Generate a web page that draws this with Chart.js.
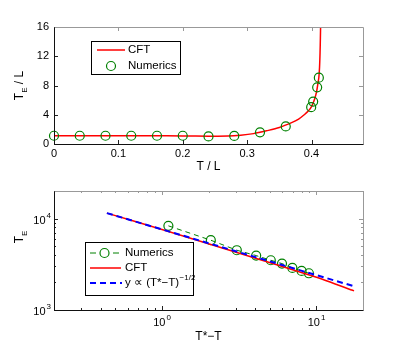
<!DOCTYPE html>
<html>
<head>
<meta charset="utf-8">
<script src="https://cdn.jsdelivr.net/npm/chart.js@4"></script>
<style>
  body { margin: 0; background: #fff; }
  .panel { position: absolute; left: 0; width: 402px; }
</style>
</head>
<body>
<div class="panel" style="top:0;height:175px"><canvas id="topChart" width="402" height="175"></canvas></div>
<div class="panel" style="top:175px;height:174px"><canvas id="bottomChart" width="402" height="174"></canvas></div>
<script>
// ---- top panel: T_E / L against T / L ----
const cftT  = [0, 0.05, 0.1, 0.15, 0.2, 0.24, 0.27, 0.29, 0.31, 0.33, 0.35, 0.37, 0.38, 0.39, 0.395, 0.40, 0.405, 0.408, 0.41, 0.4114, 0.4125, 0.4133, 0.4138, 0.4142];
const cftTE = [1.13, 1.13, 1.12, 1.12, 1.1, 1.06, 1.08, 1.2, 1.42, 1.8, 2.25, 2.95, 3.4, 4.1, 4.5, 5.1, 6.2, 7.2, 8.3, 9.1, 10.5, 12.5, 14.5, 16.5];
const numT  = [0, 0.04, 0.08, 0.12, 0.16, 0.2, 0.24, 0.28, 0.32, 0.36, 0.3995, 0.4026, 0.4088, 0.4114];
const numTE = [1.13, 1.13, 1.13, 1.13, 1.13, 1.13, 1.04, 1.1, 1.59, 2.4, 5.03, 5.8, 7.75, 9.07];
const topXTicks = [0, 0.1, 0.2, 0.3, 0.4];
const topYTicks = [0, 4, 8, 12, 16];

// ---- bottom panel: T_E against T*-T (log-log) ----
const numDT   = [1.10, 2.07, 3.05, 4.07, 5.06, 5.98, 6.98, 8.01, 8.93];
const numLogE = [8318, 5794, 4503, 3936, 3499, 3217, 2884, 2675, 2521];
const cftDT   = [0.44, 1, 3.13, 10, 17.5];
const cftLogE = [11460, 7600, 4200, 2280, 1620];
const fitDT   = [0.44, 17.5];
const fitE    = [11460, 1817];
const botXTicks = [1, 10];
const botXExp   = ['0', '1'];
const botYTicks = [1000, 10000];
const botYExp   = ['3', '4'];
const botXMinor = [0.2, 0.3, 0.4, 0.5, 0.6, 0.7, 0.8, 0.9, 2, 3, 4, 5, 6, 7, 8, 9, 20];
const botYMinor = [2000, 3000, 4000, 5000, 6000, 7000, 8000, 9000, 20000];

const FONT = '"Liberation Sans", Arial, Helvetica, sans-serif';
const RED = 'rgb(255,0,0)', GREEN = 'rgb(0,128,0)', BLUE = 'rgb(0,0,255)';

const pts = (xs, ys) => xs.map((v, i) => ({x: v, y: ys[i]}));

function frame(ctx, a, xs, ys, xScale, yScale, len, minorX, minorY) {
  ctx.save();
  ctx.lineWidth = 1;
  // tick marks, inside the box on all four sides
  const tick = (vals, l) => {
    vals.forEach(v => {
      const px = Math.round(xScale.getPixelForValue(v)) + 0.5;
      ctx.strokeStyle = '#222';
      ctx.beginPath(); ctx.moveTo(px, a.bottom); ctx.lineTo(px, a.bottom - l); ctx.stroke();
      ctx.strokeStyle = '#999';
      ctx.beginPath(); ctx.moveTo(px, a.top); ctx.lineTo(px, a.top + l); ctx.stroke();
    });
  };
  const ytick = (vals, l) => {
    vals.forEach(v => {
      const py = Math.round(yScale.getPixelForValue(v)) + 0.5;
      ctx.strokeStyle = '#222';
      ctx.beginPath(); ctx.moveTo(a.left, py); ctx.lineTo(a.left + l, py); ctx.stroke();
      ctx.strokeStyle = '#999';
      ctx.beginPath(); ctx.moveTo(a.right, py); ctx.lineTo(a.right - l, py); ctx.stroke();
    });
  };
  tick(xs, len); ytick(ys, len);
  if (minorX) tick(minorX, 2);
  if (minorY) ytick(minorY, 2);
  const L = Math.round(a.left) + 0.5, R = Math.round(a.right) + 0.5;
  const T = Math.round(a.top) + 0.5, B = Math.round(a.bottom) + 0.5;
  ctx.strokeStyle = '#999';
  ctx.beginPath(); ctx.moveTo(L, T); ctx.lineTo(R, T); ctx.lineTo(R, B); ctx.stroke();
  ctx.strokeStyle = '#111';
  ctx.beginPath(); ctx.moveTo(L, T); ctx.lineTo(L, B); ctx.lineTo(R, B); ctx.stroke();
  ctx.restore();
}

function supText(ctx, base, exp, x, y, align) {
  ctx.font = '11px ' + FONT;
  const wb = ctx.measureText(base).width;
  ctx.font = '8px ' + FONT;
  const we = ctx.measureText(exp).width;
  const x0 = align === 'right' ? x - wb - we - 1 : x - (wb + we + 1) / 2;
  ctx.textAlign = 'left';
  ctx.textBaseline = 'middle';
  ctx.font = '11px ' + FONT;
  ctx.fillText(base, x0, y);
  ctx.font = '8px ' + FONT;
  ctx.fillText(exp, x0 + wb + 1, y - 5);
}

function circle(ctx, x, y, color) {
  ctx.strokeStyle = color; ctx.lineWidth = 1.2;
  ctx.beginPath(); ctx.arc(x, y, 4.5, 0, Math.PI * 2); ctx.stroke();
}

function legendBox(ctx, x, y, w, h) {
  ctx.fillStyle = '#fff';
  ctx.fillRect(x, y, w, h);
  ctx.strokeStyle = '#000'; ctx.lineWidth = 1;
  ctx.strokeRect(x + 0.5, y + 0.5, w, h);
}

const topDecor = {
  id: 'topDecor',
  afterDraw(chart) {
    const {ctx, chartArea: a, scales: {x, y}} = chart;
    frame(ctx, a, topXTicks, topYTicks, x, y, 4);
    ctx.save();
    ctx.fillStyle = '#000';
    ctx.font = '11px ' + FONT;
    ctx.textAlign = 'center'; ctx.textBaseline = 'middle';
    topXTicks.forEach(v => ctx.fillText(String(v), x.getPixelForValue(v), a.bottom + 10));
    ctx.textAlign = 'right';
    topYTicks.forEach(v => ctx.fillText(String(v), a.left - 5, y.getPixelForValue(v)));
    // axis titles
    ctx.font = '12px ' + FONT;
    ctx.textAlign = 'center';
    ctx.fillText('T / L', (a.left + a.right) / 2, a.bottom + 23);
    ctx.save();
    ctx.translate(20, (a.top + a.bottom) / 2);
    ctx.rotate(-Math.PI / 2);
    ctx.textAlign = 'left';
    const wT = ctx.measureText('T').width;
    ctx.font = '8px ' + FONT;
    const wE = ctx.measureText('E').width;
    ctx.font = '12px ' + FONT;
    const wR = ctx.measureText(' / L').width;
    const s = -(wT + wE + wR) / 2;
    ctx.fillText('T', s, 0);
    ctx.font = '8px ' + FONT;
    ctx.fillText('E', s + wT, 5);
    ctx.font = '12px ' + FONT;
    ctx.fillText(' / L', s + wT + wE, 0);
    ctx.restore();
    // legend
    legendBox(ctx, 91, 41, 89, 33);
    ctx.strokeStyle = RED; ctx.lineWidth = 1.5;
    ctx.beginPath(); ctx.moveTo(97, 50); ctx.lineTo(125, 50); ctx.stroke();
    circle(ctx, 111, 66, GREEN);
    ctx.fillStyle = '#000';
    ctx.font = '11.5px ' + FONT;
    ctx.textAlign = 'left'; ctx.textBaseline = 'middle';
    ctx.fillText('CFT', 128, 50);
    ctx.fillText('Numerics', 128, 66);
    ctx.restore();
  }
};

const bottomDecor = {
  id: 'bottomDecor',
  afterDraw(chart) {
    const {ctx, chartArea: a, scales: {x, y}} = chart;
    frame(ctx, a, botXTicks, botYTicks, x, y, 4, botXMinor, botYMinor);
    ctx.save();
    ctx.fillStyle = '#000';
    botXTicks.forEach((v, i) => supText(ctx, '10', botXExp[i], x.getPixelForValue(v), a.bottom + 13, 'center'));
    botYTicks.forEach((v, i) => supText(ctx, '10', botYExp[i], a.left - 3, y.getPixelForValue(v) + 2, 'right'));
    ctx.font = '12px ' + FONT;
    ctx.textAlign = 'center'; ctx.textBaseline = 'middle';
    ctx.fillText('T*\u2212T', (a.left + a.right) / 2, a.bottom + 27);
    ctx.save();
    ctx.translate(20, 62);
    ctx.rotate(-Math.PI / 2);
    ctx.textAlign = 'left';
    const wT = ctx.measureText('T').width;
    ctx.font = '8px ' + FONT;
    const wE = ctx.measureText('E').width;
    const s = -(wT + wE) / 2;
    ctx.font = '12px ' + FONT;
    ctx.fillText('T', s, 0);
    ctx.font = '8px ' + FONT;
    ctx.fillText('E', s + wT, 5);
    ctx.restore();
    // legend
    const lx = 85, ly = 67;
    legendBox(ctx, lx, ly, 108, 53);
    const r1 = ly + 11, r2 = ly + 26, r3 = ly + 41;
    ctx.strokeStyle = GREEN; ctx.lineWidth = 1;
    ctx.beginPath(); ctx.moveTo(90, r1); ctx.lineTo(96, r1); ctx.moveTo(113, r1); ctx.lineTo(119, r1); ctx.stroke();
    circle(ctx, 104.5, r1, GREEN);
    ctx.strokeStyle = RED; ctx.lineWidth = 1.5;
    ctx.beginPath(); ctx.moveTo(90, r2); ctx.lineTo(121, r2); ctx.stroke();
    ctx.strokeStyle = BLUE; ctx.lineWidth = 2; ctx.setLineDash([6, 4]);
    ctx.beginPath(); ctx.moveTo(90, r3); ctx.lineTo(122, r3); ctx.stroke();
    ctx.setLineDash([]);
    ctx.fillStyle = '#000';
    ctx.font = '11.5px ' + FONT;
    ctx.textAlign = 'left'; ctx.textBaseline = 'middle';
    ctx.fillText('Numerics', 125, r1);
    ctx.fillText('CFT', 125, r2);
    const base = 'y \u221D (T*\u2212T)';
    ctx.fillText(base, 125, r3);
    const wb = ctx.measureText(base).width;
    ctx.font = '8px ' + FONT;
    ctx.fillText('\u22121/2', 125 + wb + 0.5, r3 - 5);
    ctx.restore();
  }
};

const common = {
  responsive: false,
  animation: false,
  events: [],
  plugins: { legend: { display: false }, tooltip: { enabled: false } }
};

new Chart(document.getElementById('topChart'), {
  type: 'scatter',
  data: {
    datasets: [
      {
        label: 'Numerics',
        data: pts(numT, numTE),
        showLine: false,
        pointStyle: 'circle',
        pointRadius: 4.5,
        pointBorderWidth: 1.2,
        pointBorderColor: GREEN,
        pointBackgroundColor: 'rgba(0,0,0,0)',
        clip: 8,
        order: 0
      },
      {
        label: 'CFT',
        data: pts(cftT, cftTE),
        showLine: true,
        borderColor: RED,
        borderWidth: 1.5,
        pointRadius: 0,
        tension: 0.3,
        clip: 0,
        order: 1
      }
    ]
  },
  options: Object.assign({}, common, {
    layout: { padding: { left: 54, right: 39, top: 27, bottom: 31 } },
    scales: {
      x: { type: 'linear', min: 0, max: 0.48, display: false },
      y: { type: 'linear', min: 0, max: 16, display: false }
    }
  }),
  plugins: [topDecor]
});

new Chart(document.getElementById('bottomChart'), {
  type: 'scatter',
  data: {
    datasets: [
      {
        label: 'Numerics',
        data: pts(numDT, numLogE),
        showLine: true,
        borderColor: GREEN,
        borderWidth: 1,
        borderDash: [5, 4],
        pointStyle: 'circle',
        pointRadius: 4.5,
        pointBorderWidth: 1.2,
        pointBorderColor: GREEN,
        pointBackgroundColor: 'rgba(0,0,0,0)',
        clip: 8,
        order: 2
      },
      {
        label: 'CFT',
        data: pts(cftDT, cftLogE),
        showLine: true,
        borderColor: RED,
        borderWidth: 1.5,
        pointRadius: 0,
        tension: 0.2,
        order: 1
      },
      {
        label: 'y \u221D (T*\u2212T)^-1/2',
        data: pts(fitDT, fitE),
        showLine: true,
        borderColor: BLUE,
        borderWidth: 2,
        borderDash: [6, 4],
        pointRadius: 0,
        order: 0
      }
    ]
  },
  options: Object.assign({}, common, {
    layout: { padding: { left: 54, right: 39, top: 16, bottom: 39 } },
    scales: {
      x: { type: 'logarithmic', min: 0.2, max: 20, display: false },
      y: { type: 'logarithmic', min: 1000, max: 20000, display: false }
    }
  }),
  plugins: [bottomDecor]
});
</script>
</body>
</html>
